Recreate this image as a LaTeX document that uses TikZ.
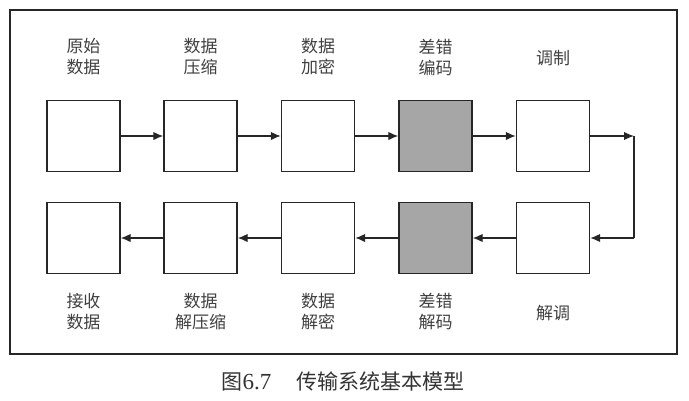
\documentclass[tikz,border=0pt]{standalone}
\usepackage{fontspec}
\newfontfamily\cjk{Noto Sans CJK SC}
\newfontfamily\digits{Liberation Serif}
\usetikzlibrary{arrows.meta}
\begin{document}
\begin{tikzpicture}[x=1pt,y=-1pt,
  blk/.style={draw=black!85,line width=1.4pt,minimum width=73pt,minimum height=71pt,inner sep=0pt,fill=white},
  grey/.style={blk,fill=black!35},
  lbl/.style={font=\cjk\fontsize{17}{21}\selectfont,text=black!75,align=center,inner sep=0pt},
  conn/.style={draw=black!85,line width=1.3pt,-{Latex[length=10pt,width=8.5pt]}}]
\useasboundingbox (0,0) rectangle (689,400);
\draw[black!85,line width=1.8pt] (10,10) rectangle (677,354);
% top row
\node[blk]  (t1) at (83.5,136) {};
\node[blk]  (t2) at (200.5,136) {};
\node[blk]  (t3) at (318,136) {};
\node[grey] (t4) at (435.5,136) {};
\node[blk]  (t5) at (553,136) {};
% bottom row
\node[blk]  (b1) at (83.5,238) {};
\node[blk]  (b2) at (200.5,238) {};
\node[blk]  (b3) at (318,238) {};
\node[grey] (b4) at (435.5,238) {};
\node[blk]  (b5) at (553,238) {};
% labels
\node[lbl] (lt1) at (83.5,57) {原始\\数据};
\node[lbl] (lt2) at (200.5,57) {数据\\压缩};
\node[lbl] (lt3) at (318,57) {数据\\加密};
\node[lbl] (lt4) at (435.5,57) {差错\\编码};
\node[lbl] (lt5) at (553,58) {调制};
\node[lbl] (lb1) at (83.5,312) {接收\\数据};
\node[lbl] (lb2) at (200.5,312) {数据\\解压缩};
\node[lbl] (lb3) at (318,312) {数据\\解密};
\node[lbl] (lb4) at (435.5,312) {差错\\解码};
\node[lbl] (lb5) at (553,313) {解调};
% connectors
\draw[conn] (t1.east) -- (t2.west);
\draw[conn] (t2.east) -- (t3.west);
\draw[conn] (t3.east) -- (t4.west);
\draw[conn] (t4.east) -- (t5.west);
\coordinate (c1) at (634,136);
\coordinate (c2) at (634,238);
\draw[conn] (t5.east) -- (c1);
\draw[draw=black!85,line width=1.3pt] (c1) -- (c2);
\draw[conn] (c2) -- (b5.east);
\draw[conn] (b5.west) -- (b4.east);
\draw[conn] (b4.west) -- (b3.east);
\draw[conn] (b3.west) -- (b2.east);
\draw[conn] (b2.west) -- (b1.east);
% caption
\node[font=\cjk\fontsize{21}{25}\selectfont,text=black!80,inner sep=0pt] (cap) at (343,381) {图{\digits\fontsize{23}{25}\selectfont 6.7}\hspace{1.2em}传输系统基本模型};
\end{tikzpicture}
\end{document}
